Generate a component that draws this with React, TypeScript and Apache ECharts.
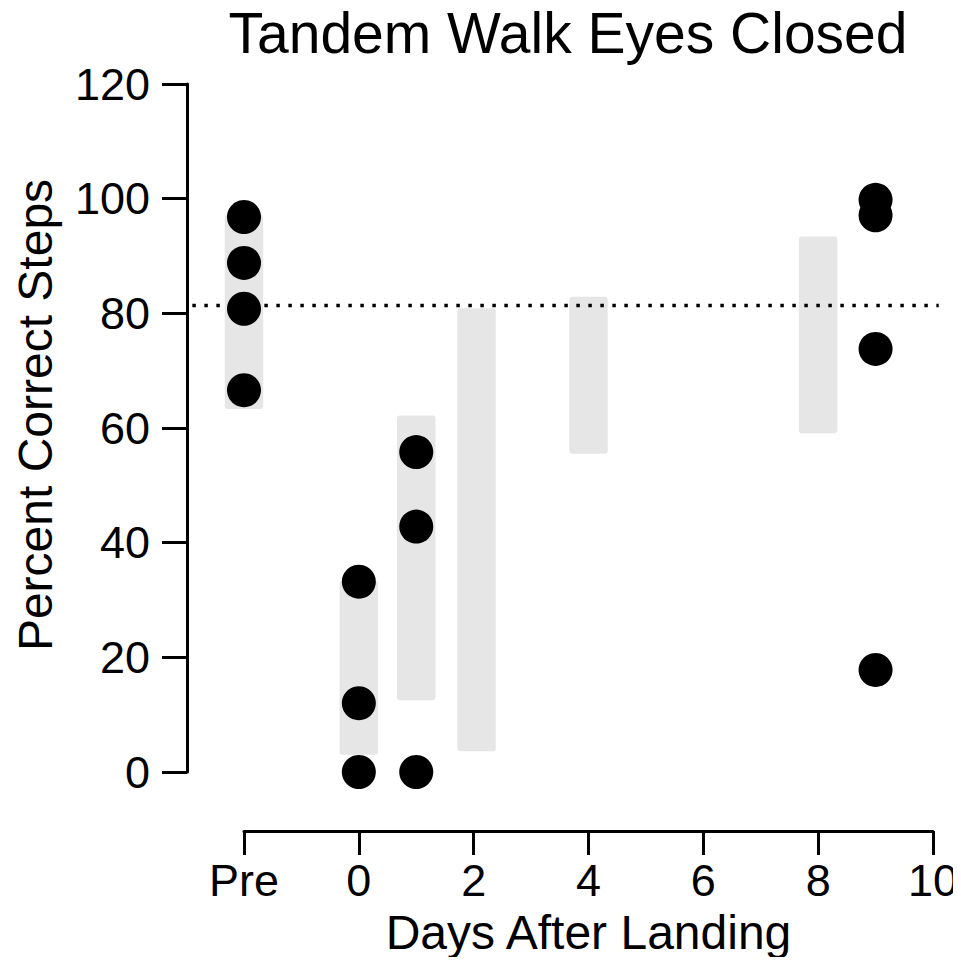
import React, { useEffect, useRef } from "react";
import * as echarts from "echarts";

// x positions: "Pre" is plotted at -2
const tickValues = [-2, 0, 2, 4, 6, 8, 10];
const tickLabels = ["Pre", "0", "2", "4", "6", "8", "10"];

// gray range bars
const rangeDays = [-2, 0, 1, 2.05, 4, 8];
const rangeLow = [63.3, 3.0, 12.5, 3.6, 55.5, 59.1];
const rangeHigh = [97.2, 33.3, 62.2, 80.9, 82.9, 93.4];

// individual subject points
const preDays = [-2, -2, -2, -2];
const preValues = [96.8, 88.8, 80.8, 66.6];
const day0Days = [0, 0, 0];
const day0Values = [33.2, 12.0, 0];
const day1Days = [1, 1, 1];
const day1Values = [55.8, 42.8, 0];
const day9Days = [9, 9, 9, 9];
const day9Values = [99.8, 97.1, 73.8, 17.8];

// dotted reference line
const refLineX = [-2.9, 10.1];
const refLineY = 81.35;

const FONT = "'Liberation Sans', Arial, Helvetica, sans-serif";

export default function App() {
  const ref = useRef<HTMLDivElement>(null);

  useEffect(() => {
    if (!ref.current) return;
    const chart = echarts.init(ref.current, undefined, { renderer: "svg" });

    const points: number[][] = [];
    const addPts = (xs: number[], ys: number[]) =>
      xs.forEach((x, i) => points.push([x, ys[i]]));
    addPts(preDays, preValues);
    addPts(day0Days, day0Values);
    addPts(day1Days, day1Values);
    addPts(day9Days, day9Values);

    const ranges = rangeDays.map((d, i) => [d, rangeLow[i], rangeHigh[i]]);

    chart.setOption({
      animation: false,
      backgroundColor: "#ffffff",
      textStyle: { fontFamily: FONT },
      title: {
        text: "Tandem Walk Eyes Closed",
        left: 563,
        textAlign: "center",
        top: -1,
        textStyle: {
          fontFamily: FONT,
          fontSize: 57,
          fontWeight: "normal",
          color: "#000",
        },
      },
      grid: [
        // wide frame that carries the y axis and the reference line
        { left: 187, top: 84, width: 753, height: 688, containLabel: false },
        // plotting frame that carries the x axis and the data marks
        { left: 244, top: 84, width: 689, height: 688, containLabel: false },
      ],
      xAxis: [
        {
          gridIndex: 0,
          type: "value",
          min: -2.993,
          max: 10.122,
          show: false,
        },
        {
          gridIndex: 1,
          type: "value",
          min: -2,
          max: 10,
          interval: 2,
          offset: 59,
          name: "Days After Landing",
          nameLocation: "middle",
          nameGap: 77,
          nameTextStyle: { fontFamily: FONT, fontSize: 48, color: "#000" },
          axisLine: { show: true, onZero: false, lineStyle: { color: "#000", width: 3 } },
          axisTick: { show: true, length: 24, lineStyle: { color: "#000", width: 3 } },
          axisLabel: {
            fontFamily: FONT,
            fontSize: 45,
            color: "#000",
            margin: 27,
            formatter: (v: number) => {
              const i = tickValues.indexOf(v);
              return i >= 0 ? tickLabels[i] : "";
            },
          },
          splitLine: { show: false },
        },
      ],
      yAxis: [
        {
          gridIndex: 0,
          type: "value",
          min: 0,
          max: 120,
          interval: 20,
          name: "Percent Correct Steps",
          nameLocation: "middle",
          nameGap: 128,
          nameTextStyle: {
            fontFamily: FONT,
            fontSize: 48,
            color: "#000",
            padding: [0, 0, 0, 26],
          },
          axisLine: { show: true, onZero: false, lineStyle: { color: "#000", width: 3 } },
          axisTick: { show: true, length: 25, lineStyle: { color: "#000", width: 3 } },
          axisLabel: {
            fontFamily: FONT,
            fontSize: 45,
            color: "#000",
            margin: 37,
            padding: [0, 0, 10, 0],
          },
          splitLine: { show: false },
        },
        {
          gridIndex: 1,
          type: "value",
          min: 0,
          max: 120,
          show: false,
        },
      ],
      series: [
        {
          type: "custom",
          xAxisIndex: 1,
          yAxisIndex: 1,
          z: 1,
          clip: false,
          data: ranges,
          renderItem: (params: any, api: any) => {
            const x = api.value(0);
            const lo = api.coord([x, api.value(1)]);
            const hi = api.coord([x, api.value(2)]);
            const w = 38.5;
            return {
              type: "rect",
              shape: {
                x: lo[0] - w / 2,
                y: hi[1],
                width: w,
                height: lo[1] - hi[1],
                r: 3,
              },
              style: { fill: "#e6e6e6" },
            };
          },
        },
        {
          type: "line",
          xAxisIndex: 0,
          yAxisIndex: 0,
          z: 2,
          clip: false,
          symbol: "none",
          silent: true,
          data: refLineX.map((x) => [x, refLineY]),
          lineStyle: { color: "#000", width: 3.5, type: [3.5, 8.5], cap: "butt", opacity: 1 },
        },
        {
          type: "scatter",
          xAxisIndex: 1,
          yAxisIndex: 1,
          z: 3,
          clip: false,
          symbol: "circle",
          symbolSize: 34,
          itemStyle: { color: "#000", opacity: 1 },
          data: points,
        },
      ],
    });

    return () => chart.dispose();
  }, []);

  return <div ref={ref} style={{ width: 961, height: 965, margin: -8 }} />;
}
